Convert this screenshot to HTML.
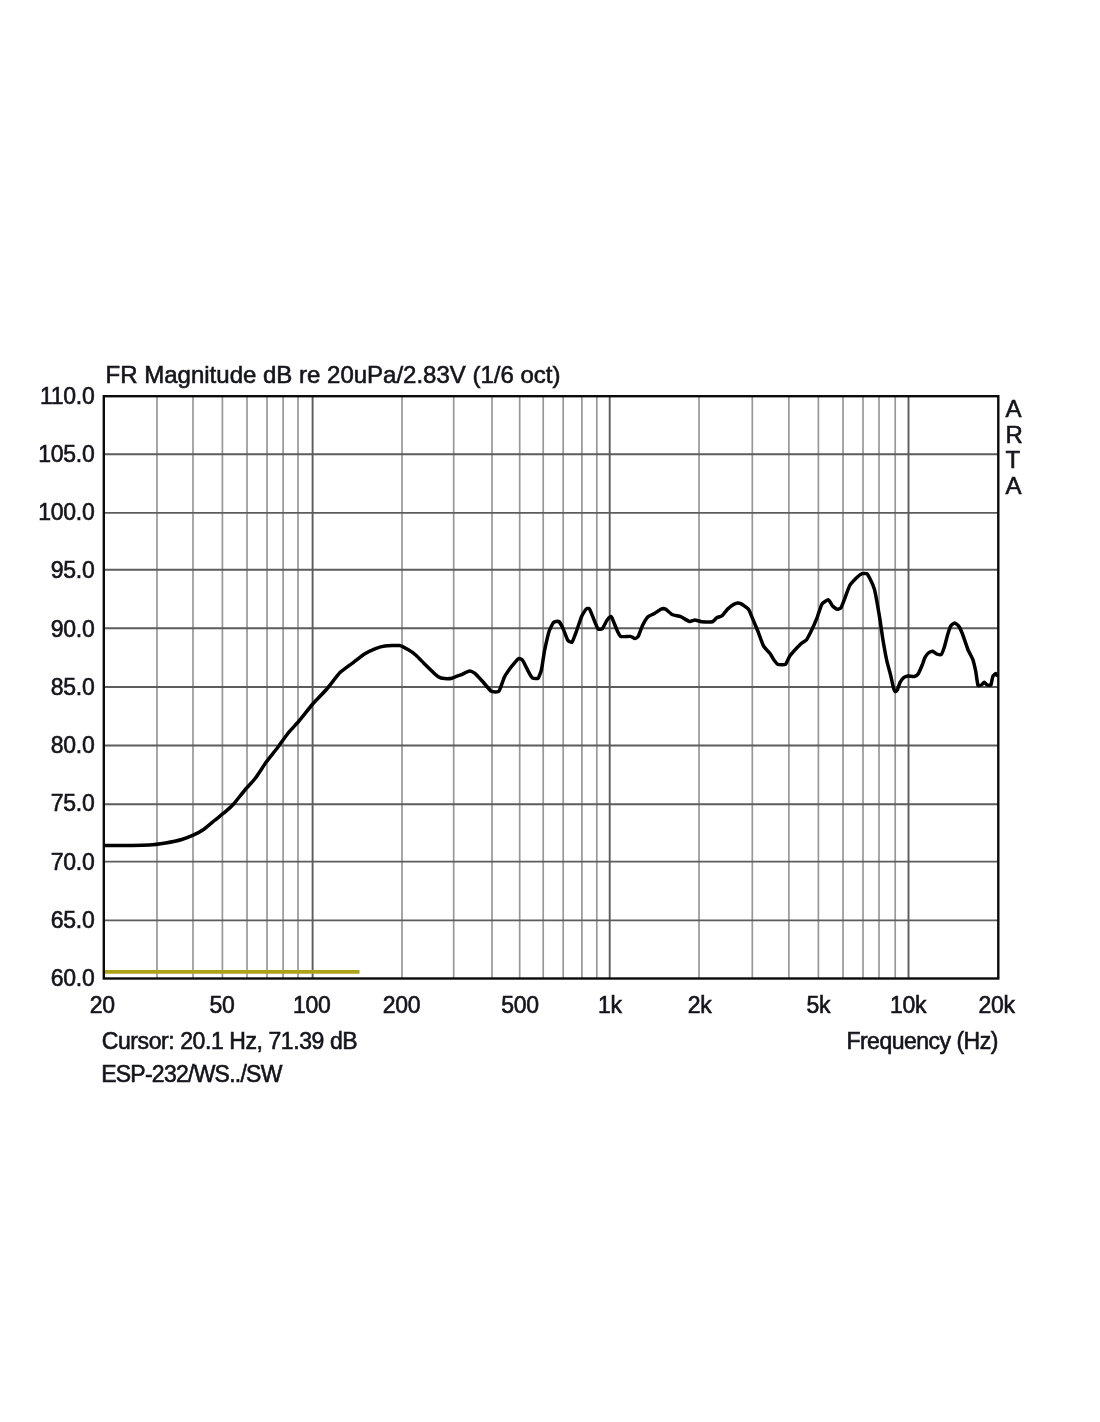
<!DOCTYPE html><html><head><meta charset="utf-8"><title>FR Magnitude</title><style>
html,body{margin:0;padding:0;background:#fff;}
body{width:1100px;height:1422px;position:relative;overflow:hidden;font-family:"Liberation Sans",sans-serif;color:#14141c;}
.t{position:absolute;white-space:nowrap;font-size:23px;line-height:24px;-webkit-text-stroke:0.6px #14141c;}
.yl{text-align:right;width:60px;left:34.4px;letter-spacing:-0.3px;}
.xl{text-align:center;width:80px;letter-spacing:-0.3px;margin-left:-0.5px;}
</style></head><body>
<svg width="1100" height="1422" viewBox="0 0 1100 1422" style="position:absolute;left:0;top:0">
<g stroke="#989898" stroke-width="1.7">
<line x1="157.0" y1="396.2" x2="157.0" y2="978.5"/>
<line x1="193.0" y1="396.2" x2="193.0" y2="978.5"/>
<line x1="222.4" y1="396.2" x2="222.4" y2="978.5"/>
<line x1="247.0" y1="396.2" x2="247.0" y2="978.5"/>
<line x1="267.0" y1="396.2" x2="267.0" y2="978.5"/>
<line x1="283.1" y1="396.2" x2="283.1" y2="978.5"/>
<line x1="298.0" y1="396.2" x2="298.0" y2="978.5"/>
<line x1="402.0" y1="396.2" x2="402.0" y2="978.5"/>
<line x1="453.7" y1="396.2" x2="453.7" y2="978.5"/>
<line x1="492.0" y1="396.2" x2="492.0" y2="978.5"/>
<line x1="519.7" y1="396.2" x2="519.7" y2="978.5"/>
<line x1="543.2" y1="396.2" x2="543.2" y2="978.5"/>
<line x1="563.2" y1="396.2" x2="563.2" y2="978.5"/>
<line x1="581.9" y1="396.2" x2="581.9" y2="978.5"/>
<line x1="596.8" y1="396.2" x2="596.8" y2="978.5"/>
<line x1="699.0" y1="396.2" x2="699.0" y2="978.5"/>
<line x1="752.3" y1="396.2" x2="752.3" y2="978.5"/>
<line x1="788.9" y1="396.2" x2="788.9" y2="978.5"/>
<line x1="818.4" y1="396.2" x2="818.4" y2="978.5"/>
<line x1="843.0" y1="396.2" x2="843.0" y2="978.5"/>
<line x1="863.0" y1="396.2" x2="863.0" y2="978.5"/>
<line x1="879.0" y1="396.2" x2="879.0" y2="978.5"/>
<line x1="895.2" y1="396.2" x2="895.2" y2="978.5"/>
</g><g stroke="#5c5c5c" stroke-width="1.9">
<line x1="312.6" y1="396.2" x2="312.6" y2="978.5"/>
<line x1="609.7" y1="396.2" x2="609.7" y2="978.5"/>
<line x1="908.5" y1="396.2" x2="908.5" y2="978.5"/>
<line x1="103.8" y1="920.4" x2="998.3" y2="920.4"/>
<line x1="103.8" y1="861.6" x2="998.3" y2="861.6"/>
<line x1="103.8" y1="804.2" x2="998.3" y2="804.2"/>
<line x1="103.8" y1="745.5" x2="998.3" y2="745.5"/>
<line x1="103.8" y1="687.0" x2="998.3" y2="687.0"/>
<line x1="103.8" y1="628.3" x2="998.3" y2="628.3"/>
<line x1="103.8" y1="569.8" x2="998.3" y2="569.8"/>
<line x1="103.8" y1="512.9" x2="998.3" y2="512.9"/>
<line x1="103.8" y1="454.2" x2="998.3" y2="454.2"/>
</g>
<line x1="104" y1="971.9" x2="359.5" y2="971.9" stroke="#ada21a" stroke-width="3.6"/>
<path d="M104.1 845.5 C107.4 845.5 144.6 845.2 149.1 845.0 C153.6 844.8 163.1 843.4 165.5 843.0 C167.9 842.6 179.8 840.1 181.8 839.5 C183.8 838.9 191.1 836.1 192.7 835.4 C194.3 834.7 202.0 830.6 203.6 829.5 C205.2 828.4 212.9 821.8 214.5 820.5 C216.1 819.2 224.1 812.9 225.5 811.7 C226.9 810.5 232.2 805.6 233.6 804.0 C235.0 802.4 242.9 792.4 244.5 790.5 C246.1 788.6 253.9 780.1 255.5 778.0 C257.1 775.9 264.8 764.0 266.4 761.8 C268.0 759.6 275.7 750.1 277.3 748.0 C278.9 745.9 286.6 735.0 288.2 733.0 C289.8 731.0 297.2 723.1 299.0 721.0 C300.8 718.9 310.7 706.3 312.7 704.0 C314.7 701.7 324.4 691.8 326.4 689.5 C328.4 687.2 338.0 674.6 340.0 672.6 C342.0 670.6 351.8 663.7 353.6 662.3 C355.4 660.9 362.9 655.0 364.5 654.0 C366.1 653.0 374.0 649.2 375.5 648.6 C377.0 648.0 383.2 646.2 385.0 646.0 C386.8 645.8 397.9 645.2 399.6 645.5 C401.3 645.8 407.2 649.1 408.4 649.8 C409.6 650.5 414.9 654.3 416.0 655.3 C417.1 656.3 422.5 661.8 423.6 662.9 C424.7 664.0 430.3 669.6 431.3 670.6 C432.3 671.6 436.8 675.8 437.8 676.4 C438.8 677.0 443.4 678.5 444.4 678.6 C445.4 678.7 450.8 678.5 452.0 678.2 C453.2 677.9 459.4 675.4 460.7 674.9 C462.0 674.4 468.5 671.1 469.5 671.0 C470.5 670.9 473.9 672.6 474.9 673.4 C475.9 674.2 481.4 680.2 482.6 681.5 C483.8 682.8 490.1 690.6 491.3 691.3 C492.5 692.0 497.9 692.3 498.9 691.3 C499.9 690.3 503.5 678.9 504.4 677.1 C505.3 675.3 509.9 668.7 510.9 667.3 C511.9 665.9 517.7 659.0 518.6 658.5 C519.5 658.0 522.2 659.7 522.9 660.7 C523.6 661.7 527.7 670.3 528.4 671.6 C529.1 672.9 532.0 677.7 532.7 678.2 C533.4 678.7 537.6 678.8 538.2 678.2 C538.8 677.6 541.0 671.6 541.5 669.5 C542.0 667.4 544.1 652.6 544.7 649.8 C545.3 647.0 548.5 633.3 549.1 631.3 C549.7 629.3 552.8 623.2 553.5 622.5 C554.2 621.8 558.2 621.0 558.9 621.5 C559.6 622.0 562.7 627.7 563.3 629.1 C563.9 630.5 567.0 639.0 567.6 640.0 C568.2 641.0 571.4 642.8 572.0 642.2 C572.6 641.6 575.7 633.2 576.4 631.3 C577.1 629.4 581.1 617.6 581.8 616.0 C582.5 614.4 585.6 609.5 586.2 609.0 C586.8 608.5 588.9 608.2 589.5 609.0 C590.1 609.8 593.2 617.8 593.8 619.3 C594.4 620.8 597.6 628.4 598.2 629.1 C598.8 629.8 601.9 629.0 602.5 628.4 C603.1 627.8 606.3 621.3 606.9 620.4 C607.5 619.5 609.8 617.0 610.2 616.8 C610.6 616.6 611.5 616.9 612.0 617.8 C612.5 618.7 615.8 627.3 616.4 628.7 C617.0 630.1 619.7 635.8 620.7 636.4 C621.7 637.0 629.5 636.2 630.5 636.4 C631.5 636.6 634.3 638.5 634.9 638.5 C635.5 638.5 637.6 637.4 638.2 636.4 C638.8 635.4 641.8 626.9 642.5 625.5 C643.2 624.1 647.1 617.6 648.0 616.7 C648.9 615.8 653.5 614.1 654.5 613.5 C655.5 612.9 660.3 609.4 661.1 609.1 C661.9 608.8 664.7 608.7 665.5 609.1 C666.3 609.5 670.9 613.9 672.0 614.5 C673.1 615.1 679.4 616.2 680.7 616.7 C682.0 617.2 688.5 621.3 689.5 621.5 C690.5 621.7 694.0 620.0 694.9 620.0 C695.8 620.0 700.2 621.6 701.5 621.7 C702.8 621.8 711.3 622.0 712.4 621.7 C713.5 621.4 716.0 618.2 716.7 617.8 C717.4 617.4 721.4 616.2 722.2 615.6 C723.0 615.0 726.6 610.0 727.6 609.1 C728.6 608.2 734.3 604.0 735.3 603.6 C736.3 603.2 739.7 603.2 740.7 603.6 C741.7 604.0 747.5 608.0 748.4 609.1 C749.3 610.2 752.0 617.2 752.7 618.9 C753.4 620.6 757.4 630.0 758.2 632.0 C759.0 634.0 762.7 644.6 763.6 646.2 C764.5 647.8 769.4 652.7 770.2 653.8 C771.0 654.9 773.9 660.0 774.5 660.8 C775.1 661.6 777.0 664.0 777.8 664.3 C778.6 664.6 784.6 664.9 785.5 664.3 C786.4 663.7 788.7 657.5 789.8 656.0 C790.9 654.5 799.5 645.2 800.7 644.0 C801.9 642.8 805.7 640.7 806.5 639.8 C807.3 638.9 810.2 633.0 811.0 631.4 C811.8 629.8 816.3 619.6 817.1 617.6 C817.9 615.6 821.0 605.6 821.8 604.3 C822.6 603.0 827.5 599.7 828.3 599.8 C829.1 599.9 831.8 605.1 832.4 605.8 C833.0 606.5 836.4 609.1 837.0 609.2 C837.6 609.3 840.4 608.5 841.0 607.7 C841.6 606.9 844.3 599.8 844.9 598.2 C845.5 596.6 848.8 587.3 849.6 585.8 C850.4 584.3 855.4 579.0 856.3 578.1 C857.2 577.2 861.2 574.0 862.0 573.7 C862.8 573.4 866.2 573.2 866.8 573.7 C867.4 574.2 870.0 578.8 870.6 580.0 C871.2 581.2 874.0 587.8 874.5 589.6 C875.0 591.4 876.9 601.6 877.3 603.9 C877.7 606.2 879.8 618.4 880.2 621.1 C880.6 623.8 882.5 637.3 883.0 640.2 C883.5 643.1 886.3 658.6 886.9 661.2 C887.5 663.8 890.2 673.5 890.7 675.5 C891.2 677.5 893.1 686.7 893.5 687.9 C893.9 689.1 895.2 691.6 895.5 691.7 C895.8 691.8 897.1 690.5 897.4 689.8 C897.7 689.1 899.7 683.1 900.2 682.2 C900.7 681.3 903.4 677.9 904.0 677.4 C904.6 676.9 907.1 676.0 907.9 675.9 C908.7 675.8 913.7 676.7 914.5 676.5 C915.3 676.3 917.8 674.4 918.4 673.6 C919.0 672.8 921.7 666.2 922.2 665.0 C922.7 663.8 924.5 658.3 925.0 657.4 C925.5 656.5 928.3 653.0 928.9 652.6 C929.5 652.2 932.1 651.2 932.7 651.3 C933.3 651.4 935.9 653.7 936.5 653.9 C937.1 654.1 940.7 654.9 941.3 654.5 C941.9 654.1 943.6 649.3 944.1 647.8 C944.6 646.3 947.5 635.1 948.0 633.5 C948.5 631.9 950.3 626.7 950.8 625.9 C951.3 625.1 954.0 623.0 954.6 623.0 C955.2 623.0 957.9 625.1 958.5 625.9 C959.1 626.7 961.6 631.8 962.3 633.5 C963.0 635.2 967.2 647.8 968.0 649.7 C968.8 651.6 972.2 657.8 972.8 659.3 C973.4 660.8 975.2 668.8 975.6 670.7 C976.0 672.6 977.5 684.0 977.9 685.0 C978.3 686.0 980.9 685.2 981.4 685.0 C981.9 684.8 983.8 682.2 984.2 682.2 C984.6 682.2 986.6 684.8 987.1 685.0 C987.6 685.2 990.5 685.6 990.9 685.0 C991.3 684.4 992.4 677.3 992.8 676.5 C993.2 675.7 995.3 673.6 995.7 673.6 C996.1 673.6 997.5 676.3 997.6 676.5" fill="none" stroke="#000" stroke-width="3.5" stroke-linejoin="round" stroke-linecap="butt"/>
<rect x="103.8" y="396.2" width="894.5" height="582.3" fill="none" stroke="#0a0a0a" stroke-width="2.4"/>
</svg>
<div class="t" style="left:105.6px;top:363.4px;font-size:24px;">FR Magnitude dB re 20uPa/2.83V (1/6 oct)</div>
<div class="t yl" style="top:966.0px">60.0</div>
<div class="t yl" style="top:907.8px">65.0</div>
<div class="t yl" style="top:849.5px">70.0</div>
<div class="t yl" style="top:791.3px">75.0</div>
<div class="t yl" style="top:733.1px">80.0</div>
<div class="t yl" style="top:674.8px">85.0</div>
<div class="t yl" style="top:616.6px">90.0</div>
<div class="t yl" style="top:558.4px">95.0</div>
<div class="t yl" style="top:500.2px">100.0</div>
<div class="t yl" style="top:441.9px">105.0</div>
<div class="t yl" style="top:383.7px">110.0</div>
<div class="t xl" style="left:62.8px;top:993px">20</div>
<div class="t xl" style="left:182.5px;top:993px">50</div>
<div class="t xl" style="left:272.2px;top:993px">100</div>
<div class="t xl" style="left:362.0px;top:993px">200</div>
<div class="t xl" style="left:480.6px;top:993px">500</div>
<div class="t xl" style="left:570.4px;top:993px">1k</div>
<div class="t xl" style="left:660.1px;top:993px">2k</div>
<div class="t xl" style="left:778.8px;top:993px">5k</div>
<div class="t xl" style="left:868.5px;top:993px">10k</div>
<div class="t xl" style="left:957.1px;top:993px">20k</div>
<div class="t" style="left:1005.6px;top:396.9px;font-size:24px">A</div>
<div class="t" style="left:1005.6px;top:422.6px;font-size:24px">R</div>
<div class="t" style="left:1005.6px;top:448.4px;font-size:24px">T</div>
<div class="t" style="left:1005.6px;top:474.1px;font-size:24px">A</div>
<div class="t" style="left:101.8px;top:1029.3px;letter-spacing:-0.42px">Cursor: 20.1 Hz, 71.39 dB</div>
<div class="t" style="left:101.2px;top:1062.3px;letter-spacing:-0.75px">ESP-232/WS../SW</div>
<div class="t" style="left:846.4px;top:1029.3px;letter-spacing:-0.5px">Frequency (Hz)</div>
</body></html>
